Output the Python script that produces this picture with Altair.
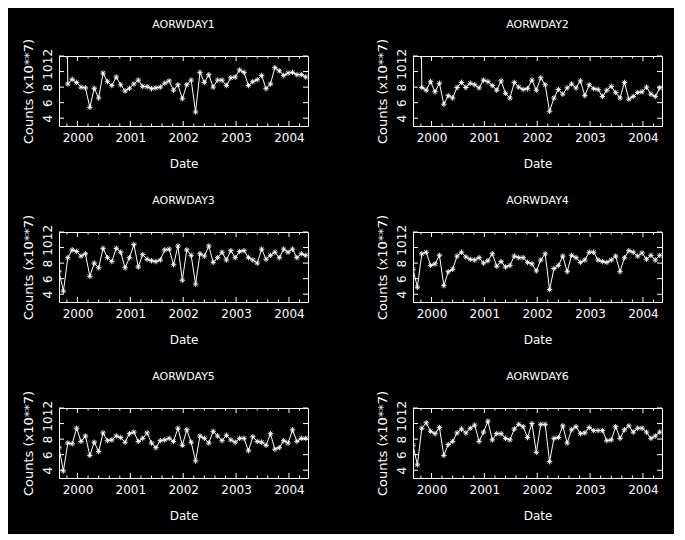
import altair as alt
import pandas as pd

# ---------------- data ----------------
START = 1999.65          # first monthly sample (decimal year)
N_MONTHS = 57
months = [round(START + k / 12.0, 4) for k in range(N_MONTHS)]

OFF = 60.0  # off-scale first value (drawn as the vertical spike, clipped)

aorwday1 = [None, OFF,
            8.4, 9.0, 8.6, 8.0, 7.9, 5.4, 7.85, 6.6, 9.8, 8.7,
            8.2, 9.3, 8.3, 7.5, 7.85, 8.4, 8.9, 8.1, 8.05, 7.8,
            7.9, 8.0, 8.5, 8.8, 7.6, 8.3, 6.5, 8.3, 8.9, 4.8,
            9.9, 8.6, 9.6, 8.0, 8.9, 8.9, 8.2, 9.2, 9.3, 10.2,
            9.9, 8.2, 8.7, 8.95, 9.5, 7.8, 8.4, 10.5, 10.1, 9.5,
            9.8, 9.9, 9.6, 9.6, 9.3]
aorwday2 = [None, OFF,
            7.95, 7.6, 8.7, 7.4, 8.5, 5.8, 6.9, 6.6, 7.95, 8.6,
            7.95, 8.5, 8.3, 7.9, 8.9, 8.7, 8.2, 7.6, 8.8, 7.2,
            6.6, 8.6, 8.0, 7.7, 7.8, 8.9, 7.6, 9.2, 8.3, 4.9,
            6.6, 7.7, 7.1, 7.9, 8.4, 7.9, 8.8, 6.9, 8.3, 7.8,
            7.7, 6.8, 7.6, 8.1, 7.3, 6.6, 8.6, 6.45, 6.8, 7.3,
            7.4, 8.0, 7.1, 6.8, 7.9]
aorwday3 = [6.9, 4.4, 8.7, 9.7, 9.5, 8.9, 9.2, 6.3, 8.0, 7.4,
            9.9, 8.7, 8.2, 9.9, 9.4, 7.4, 8.7, 10.4, 7.5, 9.1,
            8.5, 8.3, 8.2, 8.4, 9.7, 9.8, 7.8, 10.2, 5.8, 9.7,
            9.0, 5.3, 9.2, 8.9, 10.2, 8.1, 8.7, 9.4, 8.4, 9.6,
            8.7, 9.5, 9.6, 8.7, 8.4, 8.0, 9.8, 8.5, 9.0, 9.4,
            8.7, 9.8, 9.4, 9.8, 8.7, 9.2, 9.0]
aorwday4 = [7.2, 4.9, 9.2, 9.4, 7.7, 7.9, 9.0, 5.1, 6.9, 7.2,
            8.9, 9.4, 8.8, 8.5, 8.4, 8.7, 8.0, 8.3, 9.2, 7.6,
            8.2, 7.5, 7.7, 8.9, 8.7, 8.7, 8.1, 7.9, 7.0, 8.4,
            9.2, 4.6, 7.3, 7.7, 8.9, 6.9, 9.0, 8.7, 8.1, 8.4,
            9.4, 9.4, 8.4, 8.2, 8.1, 8.4, 8.9, 6.9, 8.7, 9.6,
            9.4, 8.9, 9.3, 8.5, 9.0, 8.4, 9.0]
aorwday5 = [6.9, 3.9, 7.5, 7.4, 9.4, 7.7, 8.4, 5.9, 7.6, 6.4,
            8.8, 7.8, 7.9, 8.4, 8.2, 7.6, 8.7, 8.9, 7.7, 8.1,
            8.8, 7.5, 6.9, 7.8, 7.9, 8.1, 7.7, 9.4, 7.2, 9.2,
            7.6, 5.2, 8.4, 8.1, 7.5, 9.0, 8.4, 7.8, 8.5, 7.9,
            7.6, 8.1, 8.1, 6.5, 8.3, 7.7, 7.6, 7.2, 8.7, 6.7,
            6.9, 7.8, 7.5, 9.2, 7.7, 8.1, 8.1]
aorwday6 = [7.2, 4.7, 9.4, 10.1, 9.0, 8.7, 9.5, 5.9, 7.3, 7.7,
            8.8, 9.3, 8.8, 9.4, 9.8, 7.7, 8.9, 10.3, 7.9, 8.7,
            8.7, 8.1, 7.9, 9.3, 9.9, 9.6, 8.2, 10.0, 6.3, 9.9,
            9.9, 5.1, 8.1, 8.2, 9.7, 7.5, 9.2, 9.6, 8.7, 8.8,
            9.5, 9.1, 9.1, 9.1, 7.8, 7.9, 9.6, 8.1, 9.2, 9.7,
            8.9, 9.4, 9.4, 8.9, 8.1, 8.4, 8.9]

panel_names = ["AORWDAY1", "AORWDAY2", "AORWDAY3",
               "AORWDAY4", "AORWDAY5", "AORWDAY6"]
panel_values = [aorwday1, aorwday2, aorwday3, aorwday4, aorwday5, aorwday6]

X_DOMAIN = [1999.65, 2004.36]
Y_DOMAIN = [3, 12]
year_ticks = [2000, 2001, 2002, 2003, 2004]
minor_ticks = [1999.8] + [y + f for y in [2000, 2001, 2002, 2003] for f in (0.2, 0.4, 0.6, 0.8)] + [2004.2]
y_ticks = [4, 6, 8, 10, 12]

# ---------------- style ----------------
W, H = 249, 70
FONT = "DejaVu Sans"
FG = "white"
MAJ, MIN = 5, 2.5
STAR = "M-1,0L1,0M0,-1L0,1M-0.7,-0.7L0.7,0.7M-0.7,0.7L0.7,-0.7"

xscale = alt.Scale(domain=X_DOMAIN, nice=False, zero=False)
yscale = alt.Scale(domain=Y_DOMAIN, nice=False, zero=False)
xaxis = alt.Axis(values=year_ticks, format="d", title="Date",
                 labelPadding=6, titlePadding=15, labelFlush=False)
yaxis = alt.Axis(values=y_ticks, title="Counts (x10**7)",
                 labelAngle=270, labelAlign="center",
                 labelBaseline="alphabetic", labelPadding=8,
                 titlePadding=6, titleFontSize=13, labelOverlap=False)


def panel(name, vals):
    df = pd.DataFrame({"date": months, "counts": vals}).dropna()
    x = alt.X("date:Q", scale=xscale, axis=xaxis)
    y = alt.Y("counts:Q", scale=yscale, axis=yaxis)
    base = alt.Chart(df).encode(x=x, y=y)
    line = base.mark_line(color=FG, strokeWidth=1, clip=True)
    pts = base.mark_point(shape=STAR, size=30, color=FG, strokeWidth=0.9,
                          filled=False, opacity=1, clip=True)

    xmaj = pd.DataFrame({"v": year_ticks})
    xmin = pd.DataFrame({"v": minor_ticks})
    ymaj = pd.DataFrame({"v": y_ticks})

    def xrule(d, y0, y1):
        return alt.Chart(d).mark_rule(color=FG, strokeWidth=1).encode(
            x=alt.X("v:Q", scale=xscale, axis=xaxis),
            y=alt.value(y0), y2=alt.value(y1))

    def yrule(d, x0, x1):
        return alt.Chart(d).mark_rule(color=FG, strokeWidth=1).encode(
            y=alt.Y("v:Q", scale=yscale, axis=yaxis),
            x=alt.value(x0), x2=alt.value(x1))

    ticks = [
        xrule(xmaj, H, H - MAJ), xrule(xmaj, 0, MAJ),
        xrule(xmin, H, H - MIN), xrule(xmin, 0, MIN),
        yrule(ymaj, 0, MAJ), yrule(ymaj, W, W - MAJ),
    ]
    return alt.layer(line, pts, *ticks).properties(
        width=W, height=H,
        title=alt.TitleParams(name, offset=8, frame="group", anchor="middle"))


panels = [panel(n, v) for n, v in zip(panel_names, panel_values)]
rows = [alt.hconcat(panels[i], panels[i + 1], spacing=66) for i in (0, 2, 4)]

chart = alt.vconcat(*rows, spacing=24).properties(
    padding={"left": 13, "top": 10, "right": 11, "bottom": 12},
    background="black",
).configure_view(
    stroke=FG, strokeWidth=1
).configure_axis(
    labelColor=FG, titleColor=FG, labelFont=FONT, titleFont=FONT,
    labelFontSize=12, titleFontSize=12, titleFontWeight="normal",
    grid=False, domain=False, ticks=False, tickSize=0,
).configure_title(
    color=FG, font=FONT, fontSize=11, fontWeight="normal",
)

chart.save("out.html", embed_options={"renderer": "svg", "actions": False})
